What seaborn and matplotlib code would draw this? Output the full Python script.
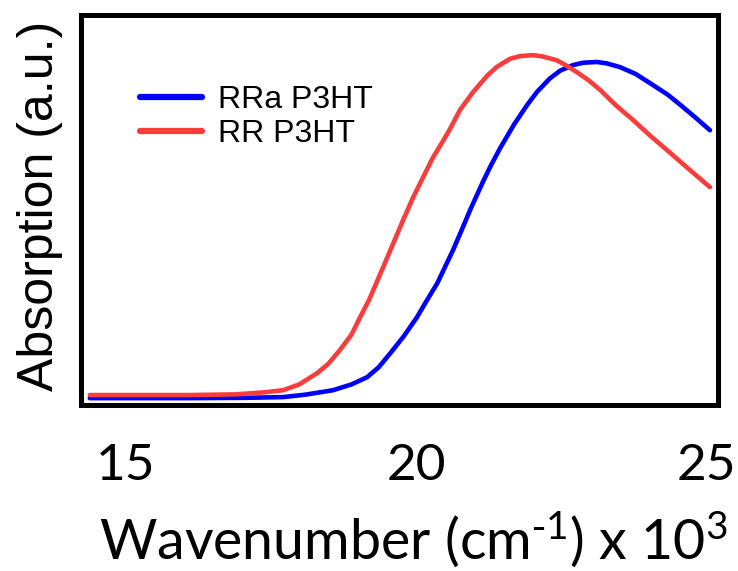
import numpy as np
import pandas as pd
import matplotlib
matplotlib.use("Agg")
import matplotlib.pyplot as plt
import matplotlib.transforms as mtransforms
import seaborn as sns

# Data (wavenumber in 10^3 cm^-1, normalized absorption)
rra_x = [14.29, 16.0, 17.0, 17.62, 18.0, 18.48, 18.8, 19.07, 19.27, 19.47, 19.7, 19.93,
         20.1, 20.28, 20.42, 20.55, 20.7, 20.85, 21.07, 21.2, 21.36, 21.6, 21.83, 22.0,
         22.22, 22.4, 22.62, 22.8, 23.03, 23.2, 23.43, 23.7, 23.95, 24.25, 24.52, 24.75, 24.98]
rra_y = [0.0, 0.0, 0.001, 0.003, 0.010, 0.023, 0.040, 0.061, 0.090, 0.131, 0.180, 0.236,
         0.285, 0.335, 0.385, 0.431, 0.490, 0.550, 0.632, 0.677, 0.728, 0.797, 0.855, 0.893,
         0.932, 0.955, 0.971, 0.978, 0.980, 0.976, 0.965, 0.945, 0.918, 0.885, 0.848, 0.815, 0.781]

rr_x = [14.29, 16.0, 16.8, 17.3, 17.62, 17.9, 18.21, 18.4, 18.60, 18.8, 18.95, 19.1, 19.24,
        19.35, 19.47, 19.58, 19.69, 19.78, 19.86, 19.95, 20.2, 20.38, 20.5, 20.67, 20.9,
        21.14, 21.3, 21.53, 21.7, 21.93, 22.1, 22.34, 22.5, 22.69, 22.9, 23.09, 23.35,
        23.66, 23.95, 24.24, 24.6, 24.98]
rr_y = [0.009, 0.009, 0.011, 0.017, 0.023, 0.040, 0.073, 0.100, 0.140, 0.185, 0.236, 0.285,
        0.340, 0.383, 0.431, 0.475, 0.519, 0.553, 0.584, 0.615, 0.700, 0.750, 0.785, 0.840,
        0.893, 0.940, 0.965, 0.989, 0.997, 1.0, 0.996, 0.985, 0.970, 0.950, 0.925, 0.898,
        0.855, 0.810, 0.765, 0.723, 0.670, 0.615]

labels = ["RRa P3HT", "RR P3HT"]
xticks = [15, 20, 25]

df = pd.concat([
    pd.DataFrame({"x": rra_x, "y": rra_y, "sample": labels[0]}),
    pd.DataFrame({"x": rr_x, "y": rr_y, "sample": labels[1]}),
], ignore_index=True)

sns.set_style("white")
plt.rcParams["mathtext.default"] = "regular"
plt.rcParams["text.color"] = "black"
plt.rcParams["axes.labelcolor"] = "black"
plt.rcParams["xtick.color"] = "black"
plt.rcParams["xtick.labelcolor"] = "black"

W, H = 738, 571
fig = plt.figure(figsize=(W / 100, H / 100), dpi=100)
L, R, T, B = 81, 717.5, 15, 405
ax = fig.add_axes([L / W, 1 - B / H, (R - L) / W, (B - T) / H])

palette = {labels[0]: "#0000ff", labels[1]: "#fa3c3c"}
sns.lineplot(data=df, x="x", y="y", hue="sample", palette=palette, ax=ax,
             linewidth=3.3, legend=True, sort=True)

ax.set_xlim(14.138, 25.11)
ax.set_ylim(-0.020, 1.117)
ax.set_xticks(xticks)
ax.set_xticklabels([str(t) for t in xticks], fontfamily="Lato", fontsize=37, color="black")
ax.set_yticks([])
ax.tick_params(axis="x", direction="out", length=15, width=3.6, pad=12, color="black")
shift = mtransforms.ScaledTranslation(-5 / 100, 0, fig.dpi_scale_trans)
for lab in ax.get_xticklabels():
    lab.set_transform(lab.get_transform() + shift)

for s in ax.spines.values():
    s.set_visible(True)
    s.set_linewidth(3.6)
    s.set_color("black")

ax.set_xlabel(r"Wavenumber (cm$^{\text{-}1}$) x 10$^{3}$", fontfamily="Lato", fontsize=40,
              color="black")
ax.xaxis.set_label_coords(0.522, -0.268)
ax.set_ylabel("Absorption (a.u.)", fontfamily="Liberation Sans", fontsize=36, color="black")
ax.yaxis.set_label_coords(-0.028, 0.51)

leg = ax.legend(loc="upper left", bbox_to_anchor=(0.093, 0.82), frameon=False,
                prop={"family": "Liberation Sans", "size": 23},
                handlelength=1.95, handletextpad=0.5, labelspacing=0.12,
                borderpad=0, borderaxespad=0)
for t in leg.get_texts():
    t.set_color("black")
for h in leg.get_lines():
    h.set_linewidth(4.5)

fig.savefig("out.png", dpi=100)
